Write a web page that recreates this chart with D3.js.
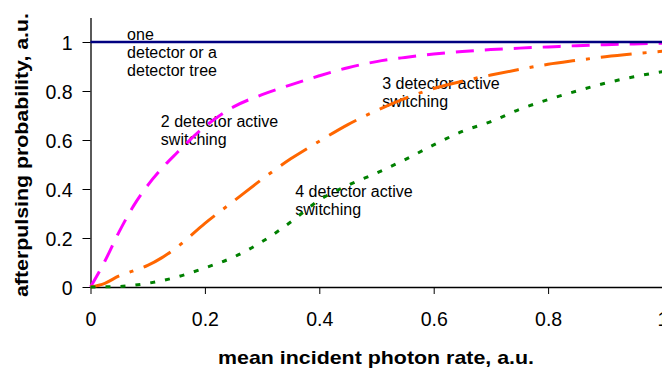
<!DOCTYPE html>
<html>
<head>
<meta charset="utf-8">
<script src="https://cdn.jsdelivr.net/npm/d3@7"></script>
<style>
  html, body { margin: 0; padding: 0; background: #fff; }
  svg { display: block; }
  text { font-family: "Liberation Sans", Arial, sans-serif; fill: #000; }
</style>
</head>
<body>
<svg id="chart" width="662" height="368"></svg>
<script>
// ---- data ----
const rate = [0, 0.025, 0.05, 0.075, 0.1, 0.125, 0.15, 0.2, 0.25, 0.3, 0.35, 0.4, 0.45, 0.5, 0.55, 0.6, 0.65, 0.7, 0.75, 0.8, 0.85, 0.9, 0.95, 1.0];
const oneDetector = [1, 1, 1, 1, 1, 1, 1, 1, 1, 1, 1, 1, 1, 1, 1, 1, 1, 1, 1, 1, 1, 1, 1, 1];
const twoDetector = [0, 0.105, 0.225, 0.33, 0.415, 0.485, 0.545, 0.655, 0.735, 0.785, 0.825, 0.862, 0.895, 0.92, 0.937, 0.951, 0.961, 0.969, 0.975, 0.98, 0.985, 0.989, 0.992, 0.995];
const threeDetector = [0, 0.015, 0.045, 0.066, 0.088, 0.12, 0.16, 0.26, 0.35, 0.44, 0.523, 0.595, 0.663, 0.72, 0.77, 0.81, 0.84, 0.865, 0.888, 0.909, 0.925, 0.94, 0.952, 0.962];
const fourDetector = [0, 0.0005, 0.002, 0.007, 0.015, 0.026, 0.04, 0.078, 0.122, 0.185, 0.265, 0.355, 0.415, 0.465, 0.52, 0.58, 0.635, 0.675, 0.725, 0.765, 0.8, 0.832, 0.858, 0.879];
const xTicks = [0, 0.2, 0.4, 0.6, 0.8, 1];
const xTickLabels = ["0", "0.2", "0.4", "0.6", "0.8", "1"];
const yTicks = [0, 0.2, 0.4, 0.6, 0.8, 1];
const yTickLabels = ["0", "0.2", "0.4", "0.6", "0.8", "1"];
const annotations = [
  { lines: ["one", "detector or a", "detector tree"], x: 0.064, y: 1.0 },
  { lines: ["2 detector active", "switching"], x: 0.123, y: 0.645 },
  { lines: ["3 detector active", "switching"], x: 0.51, y: 0.8 },
  { lines: ["4 detector active", "switching"], x: 0.358, y: 0.36 }
];
const xTitle = "mean incident photon rate, a.u.";
const yTitle = "afterpulsing probability, a.u.";

// ---- layout ----
const svg = d3.select("#chart");
const plotLeft = 90.5, plotRight = 662.5, plotTop = 17.5, plotBottom = 287;
const x = d3.scaleLinear().domain([0, 1]).range([plotLeft, plotRight]);
const y = d3.scaleLinear().domain([0, 1.1]).range([plotBottom, plotTop]);

// axes
const xAxis = d3.axisBottom(x).tickValues(xTicks).tickFormat((d, i) => xTickLabels[i]).tickSize(7).tickSizeOuter(0);
const yAxis = d3.axisLeft(y).tickValues(yTicks).tickFormat((d, i) => yTickLabels[i]).tickSize(8).tickSizeOuter(0);

const gx = svg.append("g").attr("transform", `translate(0,${plotBottom})`).call(xAxis);
const gy = svg.append("g").attr("transform", `translate(${plotLeft},0)`).call(yAxis);
[gx, gy].forEach(g => {
  g.select(".domain").attr("stroke", "#000").attr("stroke-width", 1.3);
  g.selectAll(".tick line").attr("stroke", "#000").attr("stroke-width", 1);
  g.selectAll(".tick text").attr("fill", "#000")
    .style("font-family", '"Liberation Sans", Arial, sans-serif')
    .style("font-size", "19.5px");
});
gx.selectAll(".tick text").attr("dy", null).attr("y", 38.5);
gy.selectAll(".tick text").attr("x", -18).attr("dy", "0.36em");

// annotations (drawn below lines)
annotations.forEach(a => {
  const t = svg.append("text")
    .attr("x", x(a.x)).attr("y", y(a.y))
    .style("font-size", "16px");
  a.lines.forEach((ln, i) => {
    t.append("tspan").attr("x", x(a.x)).attr("dy", i === 0 ? -2 : 18).text(ln);
  });
});

// series
const line = d3.line().x((d, i) => x(rate[i])).y(d => y(d)).curve(d3.curveMonotoneX);
const series = [
  { v: twoDetector, color: "#FF00FF", dash: "18,11", w: 3 },
  { v: threeDetector, color: "#FF6600", dash: "31,11,4,11", w: 3 },
  { v: fourDetector, color: "#008000", dash: "5,10", w: 3 },
  { v: oneDetector, color: "#000080", dash: null, w: 2.5 }
];
series.forEach(s => {
  svg.append("path")
    .attr("d", line(s.v))
    .attr("fill", "none")
    .attr("stroke", s.color)
    .attr("stroke-width", s.w)
    .attr("stroke-dasharray", s.dash);
});

// titles
svg.append("text")
  .attr("x", 376).attr("y", 364)
  .attr("text-anchor", "middle")
  .attr("textLength", 316).attr("lengthAdjust", "spacingAndGlyphs")
  .style("font-size", "19px").style("font-weight", "bold")
  .text(xTitle);
svg.append("text")
  .attr("transform", "translate(28,155) rotate(-90)")
  .attr("text-anchor", "middle")
  .attr("textLength", 284).attr("lengthAdjust", "spacingAndGlyphs")
  .style("font-size", "19px").style("font-weight", "bold")
  .text(yTitle);
</script>
</body>
</html>
